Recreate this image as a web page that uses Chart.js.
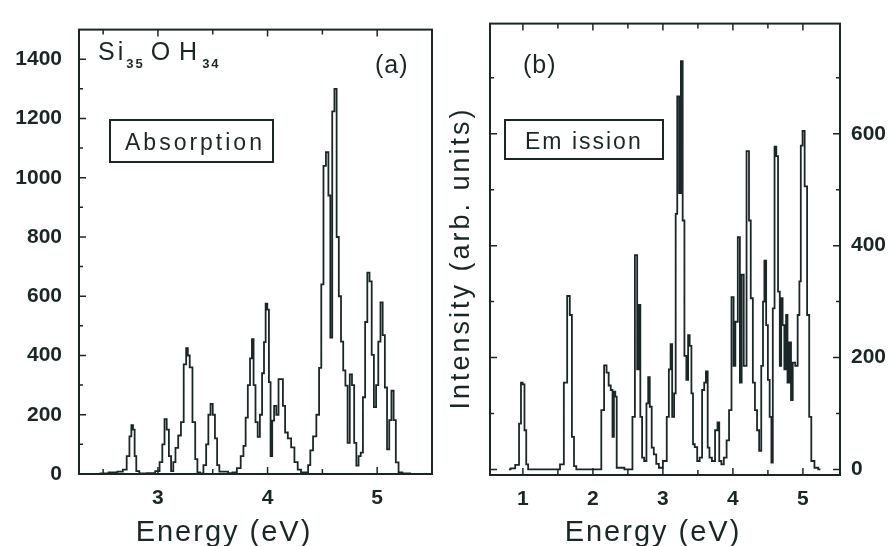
<!DOCTYPE html>
<html>
<head>
<meta charset="utf-8">
<script src="https://cdn.jsdelivr.net/npm/chart.js@4.4.1/dist/chart.umd.min.js"></script>
<style>
html, body { margin: 0; padding: 0; background: #fff; }
#wrap { position: relative; width: 890px; height: 546px; overflow: hidden; }
.panel { position: absolute; top: 0; width: 445px; height: 546px; }
</style>
</head>
<body>
<div id="wrap">
  <div class="panel" style="left:0"><canvas id="absChart"></canvas></div>
  <div class="panel" style="left:445px"><canvas id="emiChart"></canvas></div>
</div>
<script>
// Absorption spectrum, Si35OH34 (panel a)
const absEnergy = [2.45, 2.50, 2.60, 2.66, 2.70, 2.73, 2.75, 2.765, 2.78, 2.795, 2.81, 2.85, 2.95, 3.00, 3.03, 3.05, 3.07, 3.09, 3.11, 3.13,
  3.15, 3.17, 3.20, 3.22, 3.25, 3.265, 3.28, 3.30, 3.33, 3.35, 3.37, 3.40, 3.43, 3.45, 3.47, 3.49, 3.51, 3.53, 3.55, 3.57,
  3.62, 3.66, 3.70, 3.74, 3.77, 3.79, 3.81, 3.83, 3.85, 3.865, 3.88, 3.90, 3.92, 3.94, 3.96, 3.975, 3.99, 4.005, 4.02, 4.035,
  4.05, 4.07, 4.09, 4.11, 4.13, 4.15, 4.17, 4.20, 4.23, 4.26, 4.29, 4.32, 4.36, 4.38, 4.40, 4.43, 4.46, 4.48, 4.50, 4.52,
  4.545, 4.565, 4.58, 4.60, 4.62, 4.64, 4.66, 4.68, 4.70, 4.72, 4.74, 4.76, 4.78, 4.80, 4.82, 4.84, 4.86, 4.88, 4.90, 4.92,
  4.94, 4.96, 4.98, 5.00, 5.02, 5.04, 5.06, 5.08, 5.10, 5.12, 5.14, 5.16, 5.18, 5.21, 5.25, 5.35];
const absIntensity = [0, 2, 5, 8, 15, 60, 127, 165, 150, 60, 10, 2, 3, 10, 40, 100, 185, 150, 60, 10,
  40, 88, 130, 175, 370, 425, 400, 360, 175, 50, 5, 2, 30, 100, 200, 237, 200, 120, 30, 8,
  8, 3, 5, 20, 60, 95, 190, 300, 390, 455, 300, 175, 125, 200, 340, 445, 575, 555, 310, 60,
  180, 230, 200, 320, 320, 230, 140, 120, 90, 40, 15, 5, 5, 30, 80, 127, 200, 358, 640, 1040,
  1086, 940, 460, 1224, 1300, 800, 600, 447, 350, 298, 105, 336, 300, 105, 28, 60, 72, 259, 513, 680,
  650, 402, 226, 300, 447, 579, 469, 292, 83, 182, 281, 182, 39, 5, 2, 0];

// Emission spectrum (panel b)
const emiEnergy = [0.80, 0.85, 0.93, 0.96, 0.985, 1.01, 1.035, 1.06, 1.09, 1.50, 1.56, 1.61, 1.655, 1.685, 1.715, 1.745, 1.78, 2.10, 2.14, 2.18,
  2.21, 2.24, 2.27, 2.29, 2.31, 2.33, 2.35, 2.55, 2.58, 2.62, 2.645, 2.665, 2.69, 2.715, 2.75, 2.78, 2.80, 2.825, 2.855, 2.885,
  2.925, 2.96, 3.04, 3.07, 3.10, 3.12, 3.145, 3.175, 3.19, 3.22, 3.245, 3.27, 3.295, 3.32, 3.35, 3.37, 3.395, 3.42, 3.44, 3.47,
  3.51, 3.54, 3.58, 3.60, 3.63, 3.65, 3.68, 3.72, 3.77, 3.79, 3.82, 3.85, 3.89, 3.93, 3.96, 4.00, 4.02, 4.05, 4.09, 4.11,
  4.14, 4.17, 4.22, 4.24, 4.27, 4.30, 4.33, 4.36, 4.39, 4.42, 4.44, 4.46, 4.49, 4.51, 4.54, 4.56, 4.58, 4.61, 4.63, 4.66,
  4.68, 4.70, 4.72, 4.75, 4.77, 4.79, 4.82, 4.84, 4.87, 4.91, 4.94, 4.96, 4.98, 5.01, 5.04, 5.08, 5.10, 5.14, 5.19, 5.25];
const emiIntensity = [0, 2, 8, 82, 155, 152, 70, 9, 0, 0, 9, 155, 310, 276, 58, 6, 0, 0, 106, 186,
  173, 150, 142, 58, 139, 130, 3, 0, 94, 383, 179, 294, 94, 21, 15, 118, 165, 112, 39, 27,
  10, 3, 15, 94, 179, 224, 94, 136, 457, 667, 494, 730, 445, 203, 160, 240, 221, 136, 45, 40,
  15, 21, 142, 155, 175, 39, 21, 15, 70, 84, 15, 9, 21, 52, 106, 308, 185, 264, 415, 155,
  348, 185, 569, 445, 306, 155, 106, 70, 33, 185, 300, 373, 258, 160, 94, 12, 288, 577, 560, 318,
  185, 306, 258, 179, 276, 155, 227, 124, 191, 185, 276, 336, 579, 605, 506, 276, 94, 15, 3, 0];

// tick labels and tick marks
const absXTicks = [3, 4, 5];
const absXMarks = [2.5, 3, 3.5, 4, 4.5, 5];
const absYTicks = [0, 200, 400, 600, 800, 1000, 1200, 1400];
const absYMarks = [0, 100, 200, 300, 400, 500, 600, 700, 800, 900, 1000, 1100, 1200, 1300, 1400];
const emiXTicks = [1, 2, 3, 4, 5];
const emiXMarks = [1, 1.5, 2, 2.5, 3, 3.5, 4, 4.5, 5];
const emiYTicks = [0, 200, 400, 600];
const emiYMarks = [0, 100, 200, 300, 400, 500, 600, 700];

const INK = '#1b2727';
const FAMILY = '"Liberation Sans", Arial, Helvetica, sans-serif';
const tickFont = { family: FAMILY, size: 21, weight: 'bold' };
const noGrid = { display: false, drawTicks: false };

function setTicks(values) {
    return scale => { scale.ticks = values.map(v => ({ value: v })); };
}
const plain = v => String(v);

function drawText(ctx, str, x, y, size, spacing, align, weight) {
    ctx.font = (weight || '') + ' ' + size + 'px ' + FAMILY;
    ctx.letterSpacing = (spacing || 0) + 'px';
    ctx.textAlign = align || 'left';
    ctx.fillText(str, x, y);
    return ctx.measureText(str).width;
}

// frame box + inward tick marks
const framePlugin = {
    id: 'frame',
    afterDatasetsDraw(chart, args, opts) {
        const { ctx, chartArea: a, scales } = chart;
        ctx.save();
        ctx.strokeStyle = INK;
        ctx.lineWidth = 2;
        ctx.strokeRect(a.left, a.top, a.width, a.height);
        ctx.lineWidth = 1.5;
        ctx.beginPath();
        opts.xMarks.forEach(v => {
            const px = scales.x.getPixelForValue(v);
            const len = opts.xTicks.includes(v) ? 7 : 5;
            ctx.moveTo(px, a.bottom); ctx.lineTo(px, a.bottom - len);
            ctx.moveTo(px, a.top); ctx.lineTo(px, a.top + len);
        });
        opts.yMarks.forEach(v => {
            const py = scales.y.getPixelForValue(v);
            const len = opts.yTicks.includes(v) ? 7 : 4;
            ctx.moveTo(a.left, py); ctx.lineTo(a.left + len, py);
            if (opts.rightMarks) { ctx.moveTo(a.right, py); ctx.lineTo(a.right - len, py); }
        });
        ctx.stroke();
        ctx.restore();
    }
};

// labels written on the canvas: titles and panel notes
const notesPlugin = {
    id: 'notes',
    afterDraw(chart, args, opts) {
        const ctx = chart.ctx;
        ctx.save();
        ctx.fillStyle = INK;
        ctx.strokeStyle = INK;
        ctx.textBaseline = 'alphabetic';
        opts.draw(ctx);
        ctx.restore();
    }
};

function spectrumDataset(xs, ys) {
    return {
        data: xs.map((x, i) => ({ x: x, y: ys[i] })),
        borderColor: INK,
        borderWidth: 1.8,
        pointRadius: 0,
        stepped: 'middle',
        fill: false
    };
}

const common = {
    responsive: true,
    maintainAspectRatio: false,
    animation: false,
    plugins: { legend: { display: false }, tooltip: { enabled: false } }
};

new Chart(document.getElementById('absChart'), {
    type: 'line',
    data: { datasets: [spectrumDataset(absEnergy, absIntensity)] },
    plugins: [framePlugin, notesPlugin],
    options: {
        ...common,
        layout: { padding: { top: 12, right: 13, left: 0, bottom: 0 } },
        scales: {
            x: {
                type: 'linear', min: 2.28, max: 5.5,
                grid: noGrid, border: { display: false },
                afterBuildTicks: setTicks(absXTicks),
                afterFit: s => { s.height = 72; },
                ticks: { font: tickFont, color: INK, padding: 12, maxRotation: 0, callback: plain }
            },
            y: {
                type: 'linear', min: 0, max: 1500,
                grid: noGrid, border: { display: false },
                afterBuildTicks: setTicks(absYTicks),
                afterFit: s => { s.width = 79; },
                ticks: { font: tickFont, color: INK, padding: 17, callback: plain }
            }
        },
        plugins: {
            ...common.plugins,
            frame: { xMarks: absXMarks, xTicks: absXTicks, yMarks: absYMarks, yTicks: absYTicks, rightMarks: false },
            notes: {
                draw(ctx) {
                    let x = 98;
                    x += drawText(ctx, 'Si', x, 60, 25, 3);
                    x += drawText(ctx, '35', x, 68, 13, 2, 'left', 'bold') + 6;
                    x += drawText(ctx, 'O H', x, 60, 25, 1);
                    drawText(ctx, '34', x + 4, 68, 13, 2, 'left', 'bold');
                    drawText(ctx, '(a)', 375, 73, 25, 1);
                    ctx.lineWidth = 2;
                    ctx.strokeRect(110, 120, 163, 42);
                    drawText(ctx, 'Absorption', 125, 150, 23, 3);
                    drawText(ctx, 'Energy (eV)', 224, 541, 29, 2, 'center');
                }
            }
        }
    }
});

new Chart(document.getElementById('emiChart'), {
    type: 'line',
    data: { datasets: [spectrumDataset(emiEnergy, emiIntensity)] },
    plugins: [framePlugin, notesPlugin],
    options: {
        ...common,
        layout: { padding: { top: 12, right: 0, left: 0, bottom: 0 } },
        scales: {
            x: {
                type: 'linear', min: 0.53, max: 5.53,
                grid: noGrid, border: { display: false },
                afterBuildTicks: setTicks(emiXTicks),
                afterFit: s => { s.height = 71; },
                ticks: { font: tickFont, color: INK, padding: 12, maxRotation: 0, callback: plain }
            },
            y: {
                type: 'linear', position: 'left', min: -10, max: 797,
                grid: noGrid, border: { display: false },
                afterBuildTicks: setTicks(emiYTicks),
                afterFit: s => { s.width = 45; },
                ticks: { display: false }
            },
            y2: {
                type: 'linear', position: 'right', min: -10, max: 797,
                grid: noGrid, border: { display: false },
                afterBuildTicks: setTicks(emiYTicks),
                afterFit: s => { s.width = 50; },
                ticks: { font: tickFont, color: INK, padding: 11, callback: plain }
            }
        },
        plugins: {
            ...common.plugins,
            frame: { xMarks: emiXMarks, xTicks: emiXTicks, yMarks: emiYMarks, yTicks: emiYTicks, rightMarks: true },
            notes: {
                draw(ctx) {
                    drawText(ctx, '(b)', 78, 73, 25, 1);
                    ctx.lineWidth = 2;
                    ctx.strokeRect(60, 120, 158, 39);
                    drawText(ctx, 'Em ission', 80, 149, 23, 2);
                    drawText(ctx, 'Energy (eV)', 208, 541, 29, 2, 'center');
                    ctx.save();
                    ctx.translate(17, 258);
                    ctx.rotate(-Math.PI / 2);
                    ctx.textBaseline = 'middle';
                    drawText(ctx, 'Intensity (arb. units)', 0, 0, 27, 3, 'center');
                    ctx.restore();
                }
            }
        }
    }
});
</script>
</body>
</html>
